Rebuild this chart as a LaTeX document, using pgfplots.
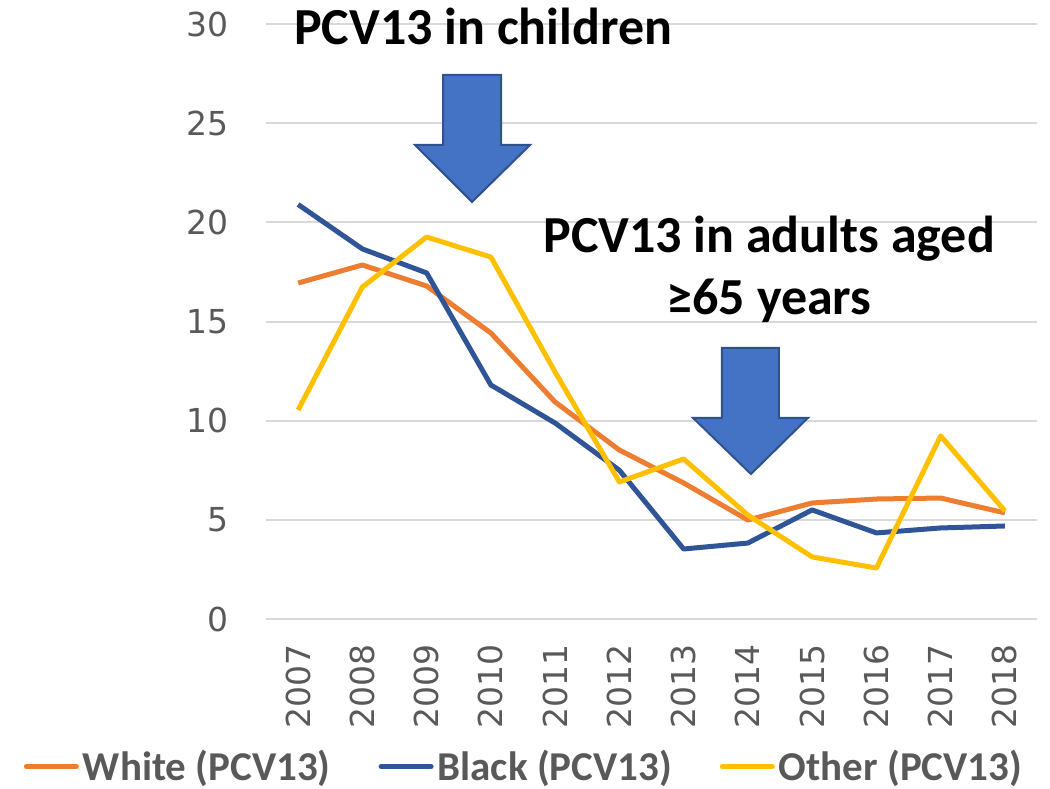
\documentclass[border=0pt]{standalone}
\usepackage{pgfplots}
\pgfplotsset{compat=1.18}
\usepackage{fontspec}
\setmainfont{Carlito}
\newfontfamily\tickfont{DejaVu Sans}

\definecolor{cwhite}{HTML}{ED7D31}
\definecolor{cblack}{HTML}{2F5597}
\definecolor{cother}{HTML}{FFC000}
\definecolor{tickgray}{HTML}{595959}
\definecolor{gridgray}{HTML}{D9D9D9}
\definecolor{arrowfill}{HTML}{4472C4}
\definecolor{arrowdraw}{HTML}{2F528F}

\begin{document}
\begin{tikzpicture}
\begin{axis}[
    name=ax,
    scale only axis,
    width=385.5pt, height=297.5pt,
    xmin=2006.5, xmax=2018.5,
    ymin=0, ymax=30,
    xtick={2007,2008,2009,2010,2011,2012,2013,2014,2015,2016,2017,2018},
    ytick={0,5,10,15,20,25,30},
    axis line style={draw=none},
    major tick style={draw=none},
    ymajorgrids,
    grid style={gridgray, line width=1pt},
    /pgf/number format/assume math mode=true,
    /pgf/number format/1000 sep={},
    ticklabel style={font=\tickfont\fontsize{16.5}{16.5}\selectfont, text=tickgray},
    yticklabel style={xshift=-15pt},
    xticklabel style={rotate=90, anchor=east, xshift=-9pt},
    clip=false,
    legend columns=3,
    legend style={draw=none, fill=none, at={(0.336,-0.248)}, anchor=center,
        font=\bfseries\fontsize{20.5}{20.5}\selectfont, text=tickgray,
        /tikz/every even column/.append style={column sep=22pt}},
    legend image code/.code={\draw[#1, line width=2.5pt, line cap=round] (0pt,0pt) -- (25pt,0pt);},
]
\addplot[cwhite, line width=2.5pt, line join=round] coordinates {
    (2007,16.94) (2008,17.85) (2009,16.79) (2010,14.42) (2011,10.94) (2012,8.52)
    (2013,6.86) (2014,4.99) (2015,5.85) (2016,6.05) (2017,6.10) (2018,5.35)
};
\addlegendentry{White (PCV13)}
\addplot[cblack, line width=2.5pt, line join=round] coordinates {
    (2007,20.90) (2008,18.66) (2009,17.45) (2010,11.80) (2011,9.88) (2012,7.50)
    (2013,3.53) (2014,3.83) (2015,5.50) (2016,4.34) (2017,4.59) (2018,4.69)
};
\addlegendentry{Black (PCV13)}
\addplot[cother, line width=2.5pt, line join=round] coordinates {
    (2007,10.54) (2008,16.74) (2009,19.26) (2010,18.25) (2011,12.45) (2012,6.91)
    (2013,8.07) (2014,5.24) (2015,3.13) (2016,2.57) (2017,9.23) (2018,5.45)
};
\addlegendentry{Other (PCV13)}

% block arrows
\draw[fill=arrowfill, draw=arrowdraw, line width=1pt]
    (axis cs:2009.256,27.43) -- (axis cs:2010.159,27.43) -- (axis cs:2010.159,23.90)
    -- (axis cs:2010.610,23.90) -- (axis cs:2009.707,21.03) -- (axis cs:2008.820,23.90)
    -- (axis cs:2009.256,23.90) -- cycle;
\draw[fill=arrowfill, draw=arrowdraw, line width=1pt]
    (axis cs:2013.597,13.67) -- (axis cs:2014.484,13.67) -- (axis cs:2014.484,10.14)
    -- (axis cs:2014.935,10.14) -- (axis cs:2014.048,7.31) -- (axis cs:2013.146,10.14)
    -- (axis cs:2013.597,10.14) -- cycle;

% annotations
\node[anchor=base, font=\bfseries\fontsize{26}{26}\selectfont, inner sep=0pt]
    at (axis cs:2009.88,28.95) {PCV13 in children};
\node[anchor=base, font=\bfseries\fontsize{26}{26}\selectfont, inner sep=0pt]
    at (axis cs:2014.33,18.47) {PCV13 in adults aged};
\node[anchor=base, font=\bfseries\fontsize{26}{26}\selectfont, inner sep=0pt]
    at (axis cs:2014.33,15.33) {≥65 years};
\end{axis}
\pgfresetboundingbox
\path[use as bounding box] ([shift={(-133pt,-84.5pt)}]ax.south west)
    rectangle ([shift={(392pt,309.5pt)}]ax.south west);
\end{tikzpicture}
\end{document}
